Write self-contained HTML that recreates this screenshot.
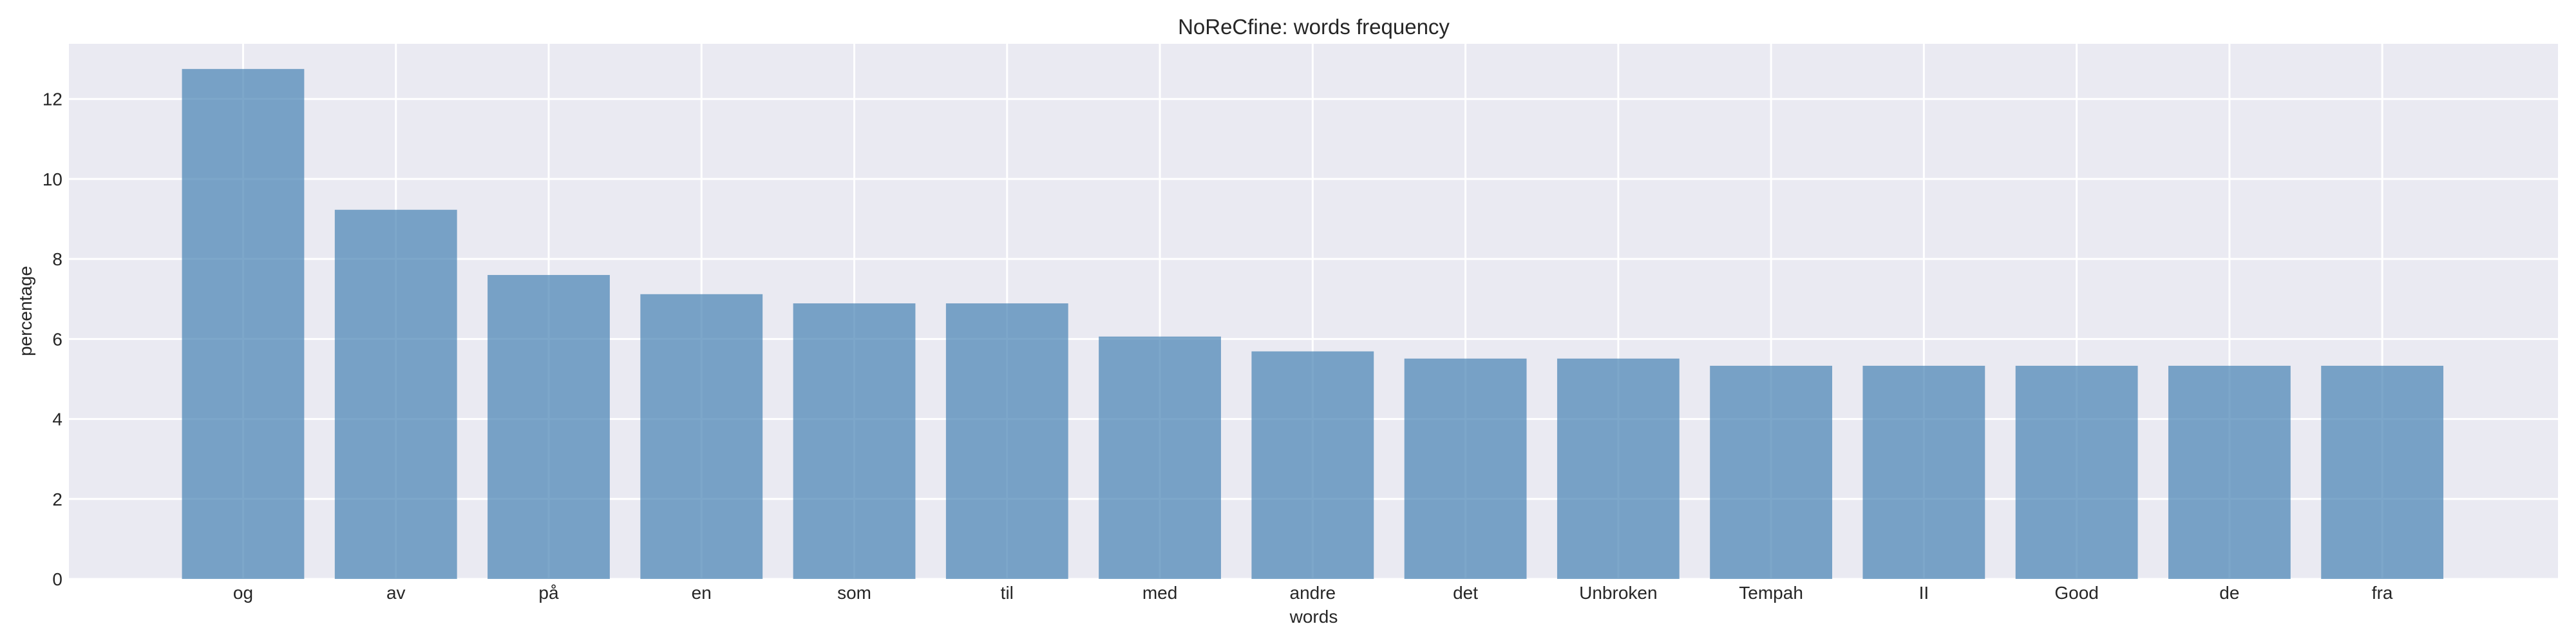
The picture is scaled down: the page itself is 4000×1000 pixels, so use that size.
<!DOCTYPE html>
<html><head><meta charset="utf-8"><style>
html,body{margin:0;padding:0;background:#fff;}
svg{display:block;font-family:"Liberation Sans",Arial,sans-serif;}
</style></head><body>
<svg id="chart" width="4000" height="1000" viewBox="0 0 4000 1000">
<rect x="0" y="0" width="4000" height="1000" fill="#ffffff"/>
<rect id="plotbg" x="107" y="68" width="3865" height="831" fill="#eaeaf2"/>
<g id="grid"></g>
<g id="bars"></g>
<g id="ticks"></g>
<text x="2040" y="53" font-size="33" text-anchor="middle" fill="#262626">NoReCfine: words frequency</text>
<text x="2040" y="967" font-size="28" text-anchor="middle" fill="#262626">words</text>
<text transform="translate(49,483) rotate(-90)" font-size="28" text-anchor="middle" fill="#262626">percentage</text>
</svg>
<script>
const categories = ["og","av","på","en","som","til","med","andre","det","Unbroken","Tempah","II","Good","de","fra"];
const values = [12.75,9.23,7.60,7.12,6.89,6.89,6.06,5.69,5.51,5.51,5.33,5.33,5.33,5.33,5.33];
const yTicks = [0,2,4,6,8,10,12];

const NS = "http://www.w3.org/2000/svg";
const plotL = 107, plotR = 3972, plotT = 68, plotB = 899;
const xMin = -1.14, xMax = 15.15, yMax = 13.38;
function xScale(i){ return plotL + (i - xMin) / (xMax - xMin) * (plotR - plotL); }
function yScale(v){ return plotB - v / yMax * (plotB - plotT); }
const bandW = xScale(1) - xScale(0);

const grid = document.getElementById('grid');
const bars = document.getElementById('bars');
const ticks = document.getElementById('ticks');

yTicks.forEach(t => {
  const y = yScale(t);
  const l = document.createElementNS(NS,'line');
  l.setAttribute('x1', plotL); l.setAttribute('x2', plotR);
  l.setAttribute('y1', y); l.setAttribute('y2', y);
  l.setAttribute('stroke', '#ffffff'); l.setAttribute('stroke-width', '3');
  
  
  grid.appendChild(l);
  const tx = document.createElementNS(NS,'text');
  tx.setAttribute('x', 97); tx.setAttribute('y', y + 10);
  tx.setAttribute('font-size', '28'); tx.setAttribute('text-anchor', 'end');
  tx.setAttribute('fill', '#262626');
  tx.textContent = t;
  
  
  ticks.appendChild(tx);
});

categories.forEach((c, i) => {
  const x = xScale(i);
  const l = document.createElementNS(NS,'line');
  l.setAttribute('x1', x); l.setAttribute('x2', x);
  l.setAttribute('y1', plotT); l.setAttribute('y2', plotB);
  l.setAttribute('stroke', '#ffffff'); l.setAttribute('stroke-width', '3');
  
  
  grid.appendChild(l);

  const w = bandW * 0.8;
  const r = document.createElementNS(NS,'rect');
  r.setAttribute('x', x - w/2); r.setAttribute('width', w);
  r.setAttribute('y', yScale(values[i])); r.setAttribute('height', plotB - yScale(values[i]));
  r.setAttribute('fill', 'rgb(70,130,180)'); r.setAttribute('fill-opacity', '0.7');
  
  
  bars.appendChild(r);

  const tx = document.createElementNS(NS,'text');
  tx.setAttribute('x', x); tx.setAttribute('y', 930);
  tx.setAttribute('font-size', '28'); tx.setAttribute('text-anchor', 'middle');
  tx.setAttribute('fill', '#262626');
  tx.textContent = c;
  
  
  ticks.appendChild(tx);
});
</script>
</body></html>
